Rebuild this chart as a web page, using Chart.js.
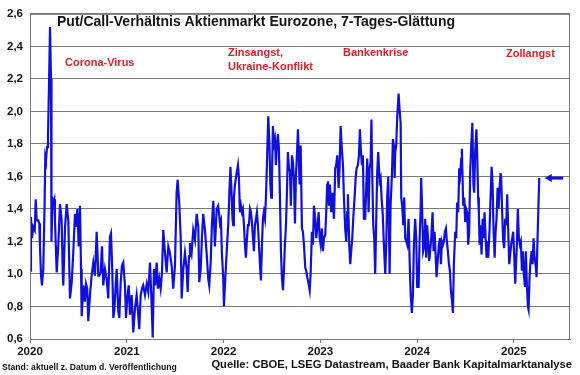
<!DOCTYPE html>
<html>
<head>
<meta charset="utf-8">
<script src="https://cdn.jsdelivr.net/npm/chart.js@4.4.1/dist/chart.umd.min.js"></script>
<style>
  html, body { margin: 0; padding: 0; background: #fff; }
  canvas { display: block; }
</style>
</head>
<body>
<canvas id="chart" width="580" height="375"></canvas>
<script>
// Put/Call-Verhältnis, 7-Tages-Glättung (Datum als Dezimaljahr)
const dates = [
  2020.000, 2020.010, 2020.021, 2020.034, 2020.049, 2020.059, 2020.069, 2020.086, 2020.096, 2020.103,
  2020.114, 2020.124, 2020.137, 2020.150, 2020.158, 2020.165, 2020.176, 2020.186, 2020.196, 2020.207,
  2020.217, 2020.222, 2020.232, 2020.241, 2020.251, 2020.258, 2020.276, 2020.292, 2020.310, 2020.327,
  2020.338, 2020.344, 2020.362, 2020.379, 2020.396, 2020.413, 2020.431, 2020.447, 2020.465, 2020.475,
  2020.489, 2020.503, 2020.517, 2020.527, 2020.534, 2020.551, 2020.568, 2020.579, 2020.592, 2020.602,
  2020.620, 2020.637, 2020.654, 2020.671, 2020.689, 2020.706, 2020.716, 2020.730, 2020.744, 2020.757,
  2020.775, 2020.792, 2020.809, 2020.826, 2020.837, 2020.850, 2020.861, 2020.871, 2020.885, 2020.896,
  2020.912, 2020.923, 2020.937, 2020.950, 2020.964, 2020.981, 2020.992, 2021.005, 2021.020, 2021.033,
  2021.051, 2021.067, 2021.085, 2021.102, 2021.116, 2021.129, 2021.144, 2021.157, 2021.170, 2021.188,
  2021.206, 2021.222, 2021.240, 2021.257, 2021.268, 2021.281, 2021.294, 2021.309, 2021.322, 2021.336,
  2021.350, 2021.364, 2021.377, 2021.395, 2021.412, 2021.429, 2021.446, 2021.464, 2021.480, 2021.498,
  2021.515, 2021.526, 2021.542, 2021.557, 2021.567, 2021.584, 2021.601, 2021.619, 2021.629, 2021.643,
  2021.653, 2021.670, 2021.687, 2021.705, 2021.722, 2021.739, 2021.749, 2021.764, 2021.777, 2021.790,
  2021.808, 2021.825, 2021.842, 2021.852, 2021.867, 2021.880, 2021.894, 2021.911, 2021.929, 2021.945,
  2021.963, 2021.973, 2021.983, 2021.997, 2022.004, 2022.014, 2022.032, 2022.049, 2022.059, 2022.071,
  2022.082, 2022.092, 2022.100, 2022.107, 2022.118, 2022.128, 2022.138, 2022.149, 2022.159, 2022.169,
  2022.180, 2022.190, 2022.200, 2022.211, 2022.221, 2022.231, 2022.242, 2022.252, 2022.262, 2022.273,
  2022.283, 2022.293, 2022.304, 2022.314, 2022.324, 2022.335, 2022.345, 2022.355, 2022.366, 2022.376,
  2022.386, 2022.397, 2022.407, 2022.417, 2022.428, 2022.438, 2022.448, 2022.462, 2022.474, 2022.484,
  2022.493, 2022.500, 2022.510, 2022.521, 2022.531, 2022.541, 2022.552, 2022.562, 2022.572, 2022.583,
  2022.593, 2022.603, 2022.614, 2022.624, 2022.634, 2022.645, 2022.655, 2022.665, 2022.676, 2022.686,
  2022.696, 2022.707, 2022.717, 2022.727, 2022.738, 2022.748, 2022.758, 2022.769, 2022.786, 2022.797,
  2022.810, 2022.820, 2022.831, 2022.844, 2022.854, 2022.865, 2022.879, 2022.890, 2022.900, 2022.913,
  2022.924, 2022.934, 2022.947, 2022.958, 2022.968, 2022.983, 2022.993, 2023.003, 2023.017, 2023.027,
  2023.037, 2023.051, 2023.061, 2023.071, 2023.079, 2023.089, 2023.099, 2023.113, 2023.127, 2023.141,
  2023.154, 2023.164, 2023.175, 2023.189, 2023.199, 2023.210, 2023.220, 2023.234, 2023.244, 2023.257,
  2023.268, 2023.278, 2023.285, 2023.299, 2023.309, 2023.319, 2023.330, 2023.340, 2023.354, 2023.365,
  2023.375, 2023.388, 2023.399, 2023.409, 2023.420, 2023.430, 2023.440, 2023.450, 2023.464, 2023.474,
  2023.485, 2023.499, 2023.509, 2023.520, 2023.528, 2023.536, 2023.547, 2023.557, 2023.567, 2023.578,
  2023.588, 2023.598, 2023.613, 2023.623, 2023.633, 2023.644, 2023.657, 2023.671, 2023.681, 2023.691,
  2023.702, 2023.716, 2023.726, 2023.740, 2023.750, 2023.760, 2023.768, 2023.774, 2023.784, 2023.795,
  2023.809, 2023.819, 2023.830, 2023.836, 2023.846, 2023.857, 2023.867, 2023.877, 2023.888, 2023.898,
  2023.912, 2023.923, 2023.933, 2023.946, 2023.957, 2023.967, 2023.980, 2023.991, 2024.001, 2024.016,
  2024.026, 2024.036, 2024.042, 2024.053, 2024.063, 2024.077, 2024.084, 2024.094, 2024.104, 2024.115,
  2024.125, 2024.135, 2024.146, 2024.160, 2024.170, 2024.181, 2024.191, 2024.201, 2024.215, 2024.225,
  2024.236, 2024.246, 2024.256, 2024.267, 2024.277, 2024.287, 2024.298, 2024.308, 2024.318, 2024.329,
  2024.339, 2024.349, 2024.360, 2024.370, 2024.380, 2024.394, 2024.404, 2024.414, 2024.425, 2024.435,
  2024.445, 2024.456, 2024.463, 2024.470, 2024.476, 2024.487, 2024.497, 2024.507, 2024.518, 2024.528,
  2024.538, 2024.549, 2024.559, 2024.571, 2024.582, 2024.590, 2024.600, 2024.613, 2024.621, 2024.631,
  2024.638, 2024.646, 2024.656, 2024.666, 2024.677, 2024.687, 2024.697, 2024.708, 2024.718, 2024.724,
  2024.735, 2024.749, 2024.759, 2024.770, 2024.780, 2024.790, 2024.801, 2024.811, 2024.821, 2024.832,
  2024.842, 2024.852, 2024.863, 2024.869, 2024.879, 2024.890, 2024.900, 2024.910, 2024.921, 2024.931,
  2024.941, 2024.952, 2024.962, 2024.972, 2024.983, 2024.993, 2025.003, 2025.014, 2025.021, 2025.031,
  2025.041, 2025.052, 2025.062, 2025.072, 2025.083, 2025.093, 2025.103, 2025.114, 2025.124, 2025.134,
  2025.145, 2025.152, 2025.162, 2025.172, 2025.183, 2025.193, 2025.204, 2025.214, 2025.224, 2025.235,
  2025.241, 2025.252, 2025.262
];

const ratio = [
  1.02, 1.35, 1.22, 1.29, 1.27, 1.46, 1.33, 1.33, 1.31, 1.17,
  0.99, 0.93, 1.03, 1.40, 1.72, 1.70, 1.78, 1.85, 2.15, 2.52,
  2.20, 1.20, 1.46, 1.44, 1.46, 1.33, 1.01, 1.17, 1.43, 1.33,
  1.01, 0.93, 1.29, 1.43, 1.33, 0.85, 0.95, 1.13, 1.37, 1.29,
  1.40, 1.17, 1.42, 1.03, 0.74, 0.93, 0.83, 0.94, 0.91, 0.71,
  0.87, 0.99, 1.07, 0.99, 1.26, 0.99, 0.99, 1.01, 1.17, 0.93,
  1.03, 0.97, 0.85, 1.23, 1.25, 1.03, 0.73, 0.77, 0.93, 1.03,
  0.77, 0.73, 0.95, 1.05, 1.07, 0.93, 0.73, 0.85, 0.93, 0.75,
  0.87, 0.64, 0.79, 0.87, 0.77, 0.66, 0.87, 0.91, 0.93, 0.87,
  0.94, 0.89, 1.07, 0.81, 0.61, 1.03, 0.93, 1.07, 0.91, 0.97,
  0.91, 1.01, 1.27, 1.13, 1.01, 1.17, 1.13, 1.05, 0.91, 1.05,
  1.50, 1.58, 1.44, 1.23, 0.85, 1.03, 1.13, 1.03, 0.89, 1.11,
  1.19, 1.13, 1.27, 1.21, 1.37, 1.29, 0.95, 1.03, 1.23, 1.37,
  1.27, 1.13, 0.97, 0.93, 1.07, 1.31, 1.45, 1.17, 1.40, 1.42,
  1.31, 1.33, 1.13, 0.97, 0.80, 0.93, 1.13, 1.31, 1.48, 1.66,
  1.51, 1.34, 1.30, 1.47, 1.55, 1.59, 1.63, 1.67, 1.59, 1.38,
  1.42, 1.38, 1.40, 1.30, 1.18, 1.10, 1.22, 1.30, 1.30, 1.40,
  1.38, 1.32, 1.22, 1.14, 1.30, 1.34, 1.38, 1.30, 1.18, 1.06,
  0.96, 1.18, 1.34, 1.38, 1.34, 1.47, 1.67, 1.97, 1.80, 1.55,
  1.47, 1.59, 1.91, 1.80, 1.83, 1.67, 1.80, 1.86, 1.77, 1.47,
  1.14, 0.98, 0.90, 1.02, 1.18, 1.30, 1.50, 1.75, 1.65, 1.63,
  1.42, 1.73, 1.69, 1.59, 1.31, 1.60, 1.73, 1.89, 1.55, 1.79,
  1.28, 1.26, 1.18, 1.04, 1.02, 0.98, 0.94, 0.90, 1.00, 1.26,
  1.18, 1.42, 1.34, 1.22, 1.28, 1.38, 1.22, 1.18, 1.28, 1.14,
  1.22, 1.24, 1.38, 1.55, 1.57, 1.42, 1.55, 1.38, 1.50, 1.34,
  1.65, 1.67, 1.73, 1.53, 1.65, 1.91, 1.79, 1.67, 1.47, 1.28,
  1.20, 1.38, 1.49, 1.18, 1.06, 1.14, 1.22, 1.34, 1.47, 1.59,
  1.65, 1.67, 1.73, 1.89, 1.75, 1.67, 1.73, 1.34, 1.34, 1.53,
  1.71, 1.38, 1.65, 1.69, 1.95, 1.63, 1.30, 1.22, 1.00, 1.34,
  1.63, 1.75, 1.57, 1.59, 1.47, 1.38, 1.18, 1.00, 1.18, 1.47,
  1.60, 1.00, 1.42, 1.61, 1.83, 1.79, 1.59, 1.75, 1.79, 1.97,
  2.11, 2.01, 1.93, 1.47, 1.42, 1.30, 1.47, 1.22, 1.20, 1.18,
  1.34, 1.08, 0.88, 0.76, 0.88, 1.18, 1.34, 1.22, 0.92, 0.92,
  1.22, 1.38, 1.59, 1.38, 1.14, 1.18, 1.34, 1.10, 1.30, 1.20,
  1.08, 1.14, 1.22, 1.38, 1.14, 1.26, 1.12, 0.98, 1.10, 1.18,
  1.22, 1.06, 1.20, 1.18, 1.20, 1.26, 1.28, 1.20, 1.14, 1.06,
  1.02, 0.90, 0.84, 0.76, 1.06, 1.26, 1.22, 1.44, 1.38, 1.65,
  1.61, 1.71, 1.77, 1.59, 1.42, 1.47, 1.32, 1.40, 1.38, 1.18,
  1.26, 1.63, 1.79, 1.93, 1.55, 1.50, 1.75, 1.89, 1.73, 1.47,
  1.38, 1.18, 1.30, 1.12, 1.34, 1.22, 1.38, 1.22, 1.10, 1.20,
  1.10, 1.28, 1.47, 1.66, 1.55, 1.28, 1.10, 1.26, 1.34, 1.53,
  1.40, 1.53, 1.62, 1.59, 1.38, 1.20, 1.16, 1.34, 1.30, 1.49,
  1.28, 1.06, 1.12, 1.18, 1.22, 1.26, 1.12, 0.94, 0.94, 1.18,
  1.40, 1.22, 1.18, 1.20, 1.02, 1.14, 1.00, 0.92, 1.14, 0.94,
  0.80, 0.78, 0.98, 1.08, 1.14, 1.06, 1.22, 1.10, 1.06, 0.98,
  1.14, 1.38, 1.59
];

const years = [2020, 2021, 2022, 2023, 2024, 2025];
const yTicks = [0.6, 0.8, 1.0, 1.2, 1.4, 1.6, 1.8, 2.0, 2.2, 2.4, 2.6];
const eventLabels = ["Corona-Virus", "Zinsangst,", "Ukraine-Konflikt", "Bankenkrise", "Zollangst"];
const lastValue = 1.59; // Pfeil rechts = aktueller Stand

const titleText = "Put/Call-Verhältnis Aktienmarkt Eurozone, 7-Tages-Glättung";
const standText = "Stand: aktuell z. Datum d. Veröffentlichung";
const sourceText = "Quelle: CBOE, LSEG Datastream, Baader Bank Kapitalmarktanalyse";

const FONT = "'Liberation Sans', Arial, sans-serif";
const BLUE = "#1010dc";
const RED = "#e0202a";
const GRID = "#7a7a7a";

const points = dates.map((d, i) => ({ x: d, y: ratio[i] }));

const extras = {
  id: "extras",
  afterDraw(chart) {
    const { ctx, chartArea: a, scales } = chart;
    const x = scales.x, y = scales.y;
    ctx.save();

    // rahmen
    ctx.strokeStyle = GRID;
    ctx.lineWidth = 1;
    ctx.strokeRect(a.left + 0.5, a.top + 0.5, a.right - a.left - 1, a.bottom - a.top);

    // titel
    ctx.fillStyle = "#111";
    ctx.font = "bold 14px " + FONT;
    ctx.textBaseline = "middle";
    ctx.textAlign = "left";
    ctx.fillText(titleText, 57, 22);

    // ereignisse
    ctx.fillStyle = RED;
    ctx.font = "bold 11px " + FONT;
    ctx.fillText(eventLabels[0], 65, 63);
    ctx.fillText(eventLabels[1], 228, 53);
    ctx.fillText(eventLabels[2], 228, 67);
    ctx.fillText(eventLabels[3], 343, 53);
    ctx.fillText(eventLabels[4], 506, 54);

    // pfeil auf letzten wert
    const py = y.getPixelForValue(lastValue);
    const x0 = x.getPixelForValue(2025.32);
    const x1 = x.getPixelForValue(2025.51);
    ctx.strokeStyle = BLUE;
    ctx.fillStyle = BLUE;
    ctx.lineWidth = 3;
    ctx.beginPath();
    ctx.moveTo(x0 + 5, py);
    ctx.lineTo(x1, py);
    ctx.stroke();
    ctx.beginPath();
    ctx.moveTo(x0, py);
    ctx.lineTo(x0 + 7, py - 4);
    ctx.lineTo(x0 + 7, py + 4);
    ctx.closePath();
    ctx.fill();

    // fusszeilen
    ctx.fillStyle = "#111";
    ctx.font = "bold 8.6px " + FONT;
    ctx.textAlign = "left";
    ctx.fillText(standText, 2, 368);
    ctx.font = "bold 11.2px " + FONT;
    ctx.textAlign = "right";
    ctx.fillText(sourceText, 572, 365);

    ctx.restore();
  }
};

new Chart(document.getElementById("chart"), {
  type: "line",
  data: {
    datasets: [{
      data: points,
      borderColor: BLUE,
      borderWidth: 2.2,
      pointRadius: 0,
      tension: 0,
      fill: false
    }]
  },
  options: {
    responsive: false,
    animation: false,
    devicePixelRatio: 1,
    layout: { padding: { top: 10, right: 10, left: 0, bottom: 0 } },
    plugins: {
      legend: { display: false },
      tooltip: { enabled: false },
      title: { display: false }
    },
    scales: {
      x: {
        type: "linear",
        min: 2020,
        max: 2025.58,
        afterBuildTicks(s) { s.ticks = years.map(v => ({ value: v })); },
        afterFit(s) { s.height = 36; },
        ticks: {
          autoSkip: false,
          maxRotation: 0,
          padding: 2,
          color: "#111",
          font: { family: FONT, size: 11.5, weight: "bold" },
          callback: v => String(v)
        },
        grid: { drawOnChartArea: false, drawTicks: true, tickLength: 4, color: GRID },
        border: { display: true, color: GRID }
      },
      y: {
        min: 0.6,
        max: 2.6,
        afterBuildTicks(s) { s.ticks = yTicks.map(v => ({ value: v })); },
        afterFit(s) { s.width = 30; },
        ticks: {
          padding: 7,
          color: "#111",
          font: { family: FONT, size: 11.5, weight: "bold" },
          callback: v => v.toFixed(1).replace(".", ",")
        },
        grid: { color: GRID, lineWidth: 1, drawTicks: false },
        border: { display: true, color: GRID }
      }
    }
  },
  plugins: [extras]
});
</script>
</body>
</html>
